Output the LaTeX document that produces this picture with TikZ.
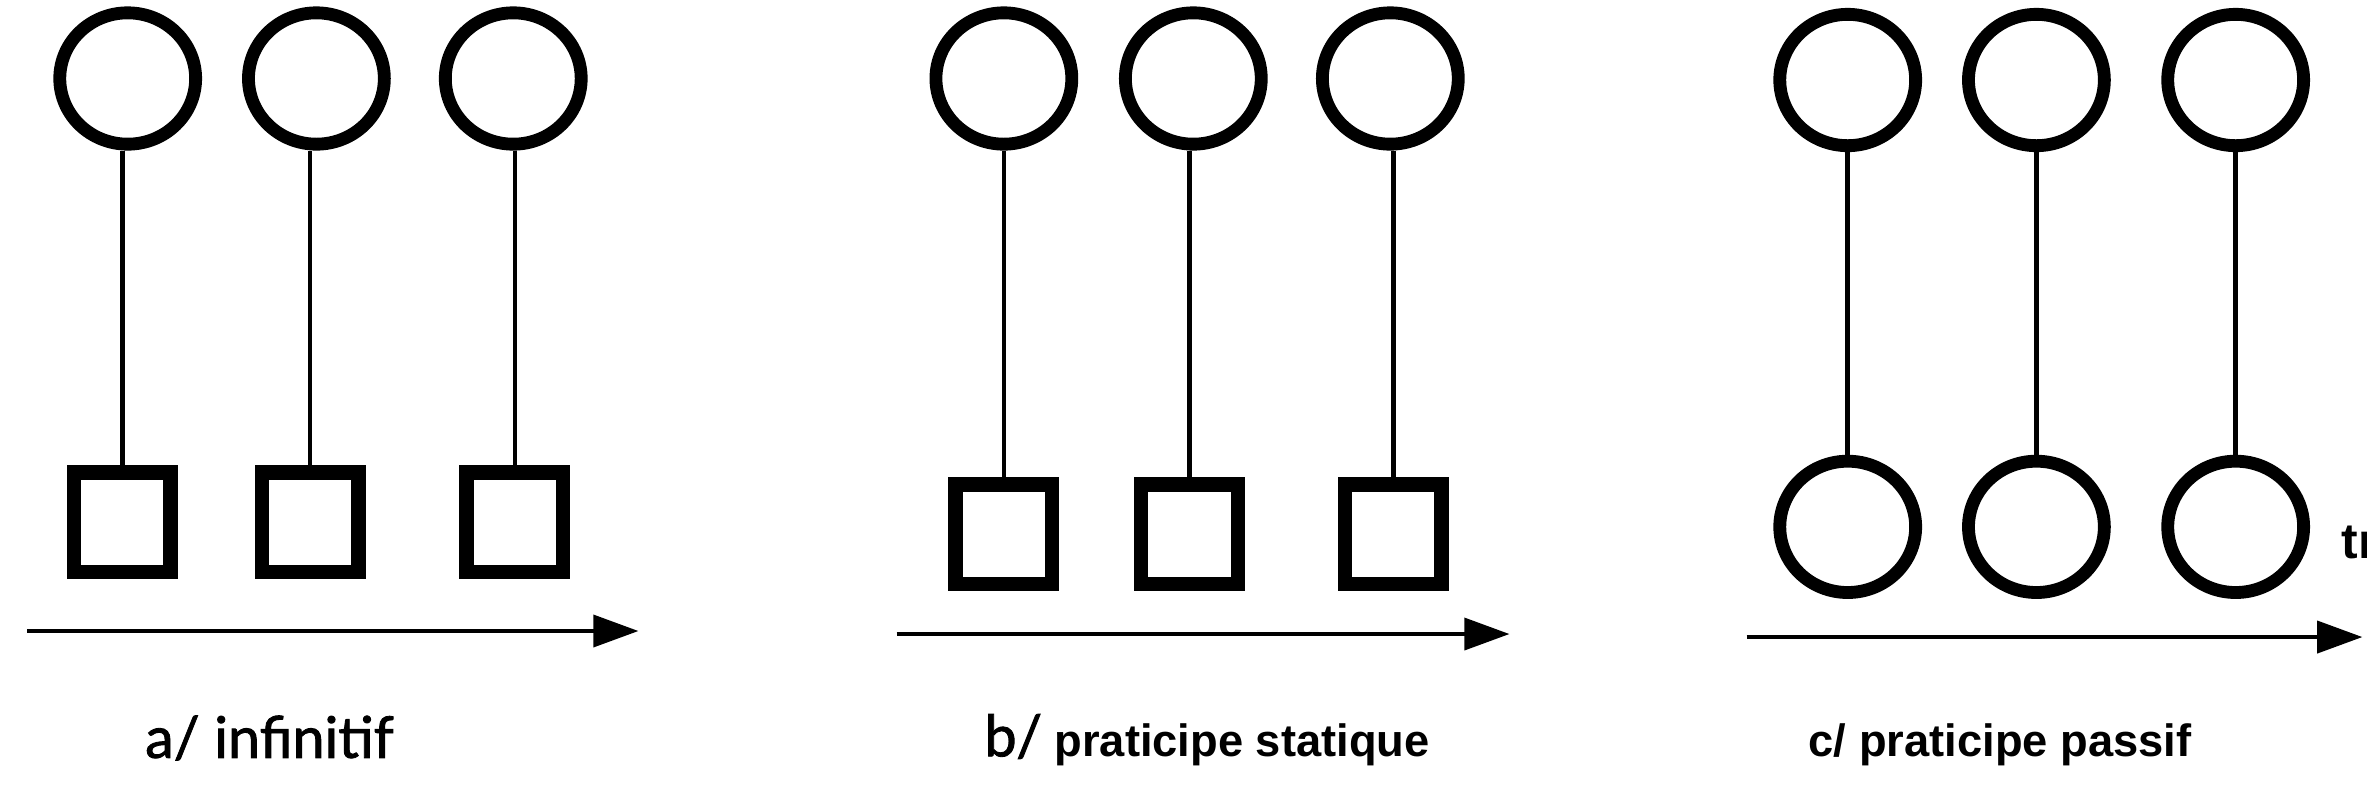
\documentclass[tikz,border=0pt]{standalone}
\usepackage{fontspec}
\setmainfont{Liberation Sans}
\newfontfamily\latof{Lato}[FakeBold=1.5]
\usetikzlibrary{arrows.meta,shapes.geometric}
\begin{document}
\begin{tikzpicture}[x=1pt,y=-1pt,
  ring/.style={draw,ellipse,line width=8.5pt,minimum width=90pt,minimum height=87pt,inner sep=0pt},
  sq/.style={draw,rectangle,line width=9.5pt,minimum width=64pt,minimum height=66pt,inner sep=0pt},
  link/.style={line width=3pt},
  axis/.style={line width=3.2pt,-{Triangle[length=30pt,width=21pt]}},
  lab/.style={anchor=base west,inner sep=0pt,font=\fontsize{30}{36}\selectfont\bfseries},
  latolab/.style={anchor=base west,inner sep=0pt,font=\fontsize{38}{44}\selectfont\latof}]
\useasboundingbox (0,0) rectangle (1568,523);
\clip (0,0) rectangle (1568,523);
% panel a
\node[ring] (ac1) at (84.6,52) {};
\node[ring] (ac2) at (209.6,52) {};
\node[ring] (ac3) at (340,52) {};
\node[sq] (as1) at (81,346) {};
\node[sq] (as2) at (205.5,346) {};
\node[sq] (as3) at (341,346) {};
\foreach \i in {1,2,3}{\draw[link] (as\i.north) -- (as\i.north |- ac\i.south);}
\coordinate (aA) at (18,418);
\coordinate (aB) at (423,418);
\draw[axis] (aA) -- (aB);
\node[latolab] (alab) at (96,502) {a/ infinitif};
% panel b
\node[ring] (bc1) at (665,52) {};
\node[ring] (bc2) at (790.5,52) {};
\node[ring] (bc3) at (921,52) {};
\node[sq] (bs1) at (665,354) {};
\node[sq] (bs2) at (788,354) {};
\node[sq] (bs3) at (923,354) {};
\foreach \i in {1,2,3}{\draw[link] (bs\i.north) -- (bs\i.north |- bc\i.south);}
\coordinate (bA) at (594,420);
\coordinate (bB) at (1000,420);
\draw[axis] (bA) -- (bB);
\node[lab] (blab) at (652,501) {{\latof\mdseries\fontsize{38}{44}\selectfont b/} praticipe statique};
% panel c
\node[ring] (cc1) at (1224,53) {};
\node[ring] (cc2) at (1349,53) {};
\node[ring] (cc3) at (1481,53) {};
\node[ring] (cd1) at (1224,349) {};
\node[ring] (cd2) at (1349,349) {};
\node[ring] (cd3) at (1481,349) {};
\foreach \i in {1,2,3}{\draw[link] (cc\i.south) -- (cd\i.north);}
\coordinate (cA) at (1157,422);
\coordinate (cB) at (1565,422);
\draw[axis] (cA) -- (cB);
\node[lab] (clab) at (1198,501) {c/ praticipe passif};
\node[lab,font=\fontsize{33}{38}\selectfont\bfseries] (tr) at (1551,370) {tr};
\end{tikzpicture}
\end{document}
